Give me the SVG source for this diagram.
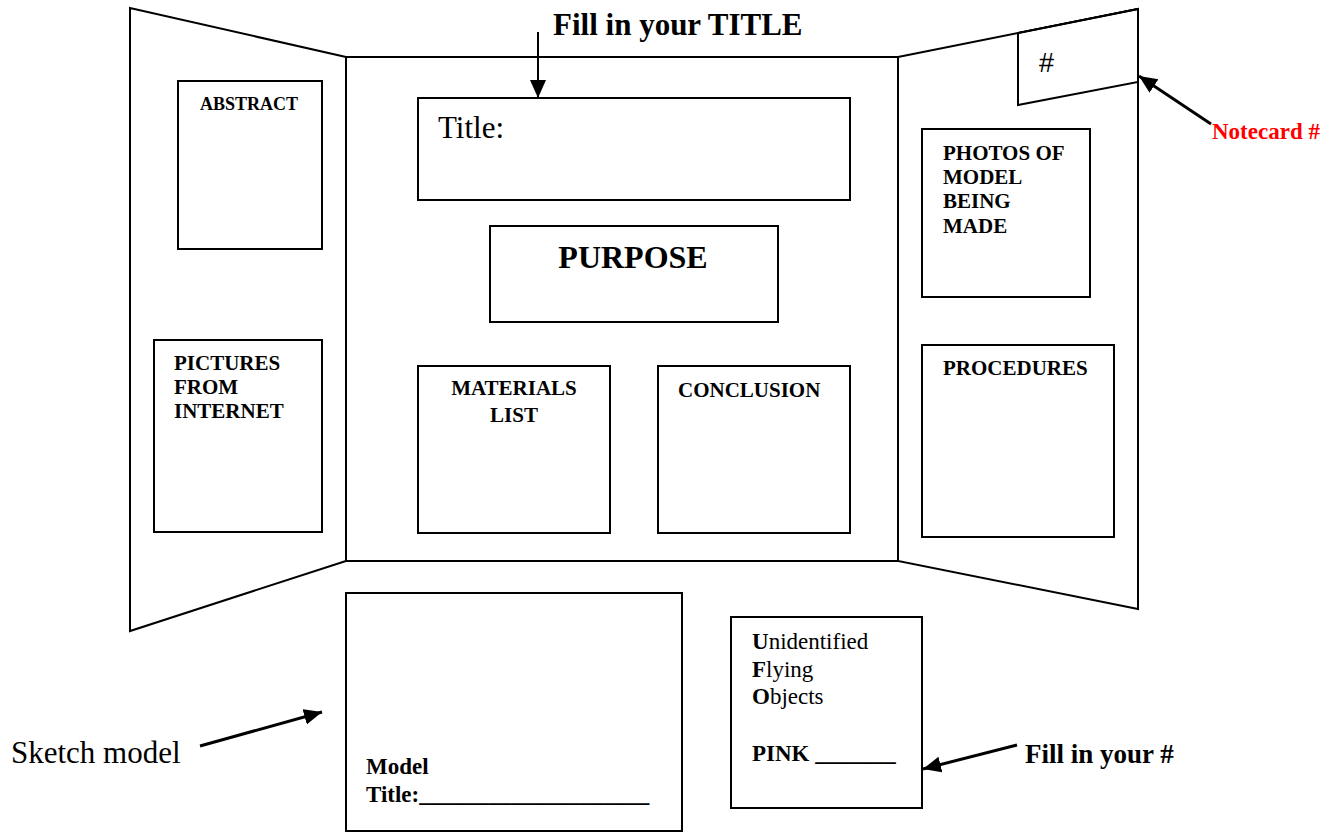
<svg xmlns="http://www.w3.org/2000/svg" width="1335" height="834" viewBox="0 0 1335 834">
<style>
  .ln { fill: #fff; stroke: #000; stroke-width: 2; }
  .bx { fill: #fff; stroke: #000; stroke-width: 2; }
  .t { font-family: "Liberation Serif", "Times New Roman", serif; fill: #000; }
  .b { font-weight: bold; }
  .conn { stroke: #000; stroke-width: 3; fill: none; }
  .thin { stroke-width: 2; }
</style>
<defs>
  <marker id="ah" markerUnits="userSpaceOnUse" markerWidth="20" markerHeight="18" refX="18" refY="8" orient="auto">
    <path d="M0,0 L18,8 L0,16 Z" fill="#000"/>
  </marker>
</defs>
<rect width="1335" height="834" fill="#fff"/>

<g id="board">
  <polygon class="ln" points="346,57 130,8 130,631 346,561"/>
  <polygon class="ln" points="898,57 1138,9 1138,609 898,561"/>
  <rect class="ln" x="346" y="57" width="552" height="504"/>
</g>

<g id="notecard">
  <polygon class="bx" points="1018,33 1018,105 1138,82 1138,9"/>
  <polyline points="1018,33 1138,9" fill="none" stroke="#000" stroke-width="2"/>
  <text class="t" x="1039" y="72" style="font-family:'Liberation Sans', Arial, sans-serif" font-size="27">#</text>
</g>

<g id="abstract">
  <rect class="bx" x="178" y="81" width="144" height="168"/>
  <text class="t b" x="249" y="110" font-size="18" text-anchor="middle">ABSTRACT</text>
</g>

<g id="pictures">
  <rect class="bx" x="154" y="340" width="168" height="192"/>
  <text class="t b" font-size="21"><tspan x="174" y="370">PICTURES</tspan><tspan x="174" y="394">FROM</tspan><tspan x="174" y="418">INTERNET</tspan></text>
</g>

<g id="title">
  <rect class="bx" x="418" y="98" width="432" height="102"/>
  <text class="t" x="438" y="138" font-size="31">Title:</text>
</g>

<g id="purpose">
  <rect class="bx" x="490" y="226" width="288" height="96"/>
  <text class="t b" x="633" y="268" font-size="32" text-anchor="middle">PURPOSE</text>
</g>

<g id="materials">
  <rect class="bx" x="418" y="366" width="192" height="167"/>
  <text class="t b" font-size="21" text-anchor="middle"><tspan x="514" y="395">MATERIALS</tspan><tspan x="514" y="422">LIST</tspan></text>
</g>

<g id="conclusion">
  <rect class="bx" x="658" y="366" width="192" height="167"/>
  <text class="t b" x="678" y="397" font-size="21">CONCLUSION</text>
</g>

<g id="photos">
  <rect class="bx" x="922" y="129" width="168" height="168"/>
  <text class="t b" font-size="21"><tspan x="943" y="160">PHOTOS OF</tspan><tspan x="943" y="184">MODEL</tspan><tspan x="943" y="208">BEING</tspan><tspan x="943" y="233">MADE</tspan></text>
</g>

<g id="procedures">
  <rect class="bx" x="922" y="345" width="192" height="192"/>
  <text class="t b" x="943" y="375" font-size="21">PROCEDURES</text>
</g>

<g id="model">
  <rect class="bx" x="346" y="593" width="336" height="238"/>
  <text class="t b" font-size="23"><tspan x="366" y="774">Model</tspan><tspan x="366" y="802">Title:____________________</tspan></text>
</g>

<g id="ufo">
  <rect class="bx" x="731" y="617" width="191" height="191"/>
  <text class="t" font-size="23"><tspan x="752" y="649"><tspan font-weight="bold">U</tspan>nidentified</tspan><tspan x="752" y="677"><tspan font-weight="bold">F</tspan>lying</tspan><tspan x="752" y="704"><tspan font-weight="bold">O</tspan>bjects</tspan><tspan x="752" y="761" font-weight="bold">PINK _______</tspan></text>
</g>

<g id="labels">
  <text class="t b" x="553" y="35" font-size="31">Fill in your TITLE</text>
  <text class="t b" x="1212" y="139" font-size="23" fill="#ff0000" style="fill:#ff0000">Notecard #</text>
  <text class="t" x="11" y="763" font-size="31">Sketch model</text>
  <text class="t b" x="1025" y="763" font-size="27">Fill in your #</text>
</g>

<g id="connectors">
  <line class="conn thin" x1="538" y1="32" x2="538" y2="98" marker-end="url(#ah)"/>
  <line class="conn" x1="1211" y1="124" x2="1139" y2="76" marker-end="url(#ah)"/>
  <line class="conn" x1="200" y1="746" x2="322" y2="712" marker-end="url(#ah)"/>
  <line class="conn" x1="1017" y1="745" x2="923" y2="769" marker-end="url(#ah)"/>
</g>
</svg>
